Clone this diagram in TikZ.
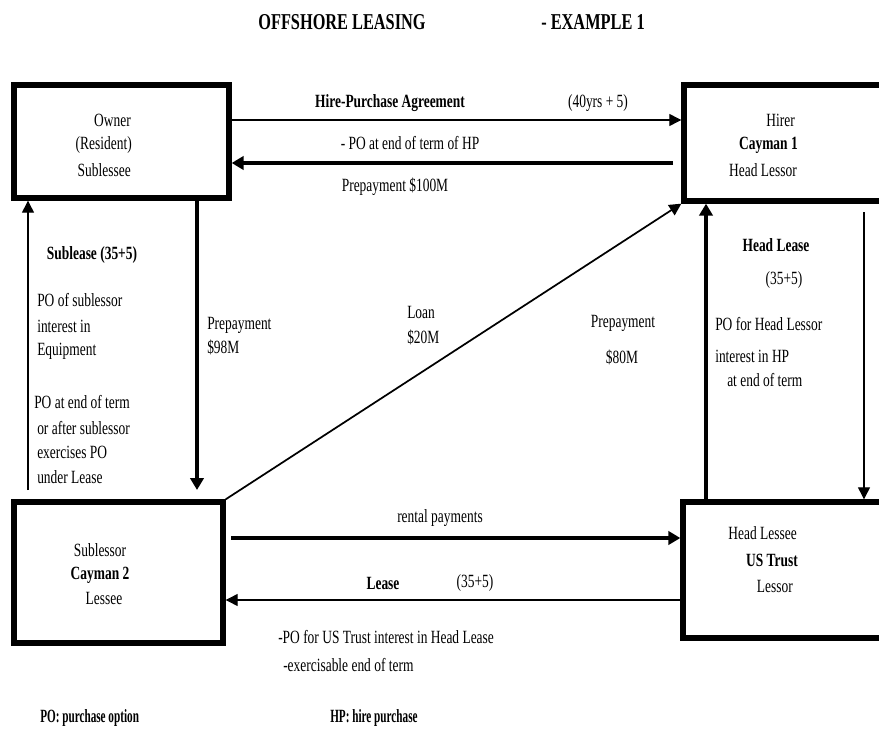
\documentclass[tikz,border=0pt]{standalone}
\usepackage{fontspec}
\newfontfamily\cf[FakeStretch=0.72]{Liberation Serif}
\newfontfamily\cfn[FakeStretch=0.6]{Liberation Serif}
\usetikzlibrary{arrows.meta,fit}
\begin{document}
\begin{tikzpicture}[x=0.75pt,y=-0.75pt,
  lbl/.style={font=\cf\fontsize{14}{16}\selectfont, inner sep=0pt},
  lbll/.style={lbl, anchor=west},
  boldlbl/.style={lbl, font=\cf\bfseries\fontsize{14}{16}\selectfont},
  titlelbl/.style={lbl, font=\cf\bfseries\fontsize{17}{19}\selectfont},
  legendlbl/.style={lbl, anchor=west, font=\cfn\bfseries\fontsize{14}{16}\selectfont},
  box/.style={draw, line width=4pt, inner sep=0pt},
  thinarrow/.style={line width=0.8pt, -{Triangle[length=9pt,width=9pt]}},
  thickarrow/.style={line width=3pt, -{Triangle[length=9pt,width=10pt]}},
  diagarrow/.style={line width=1.3pt, -{Triangle[length=9pt,width=9pt]}},
]
\clip (0,0) rectangle (879,735);
\fill[white] (0,0) rectangle (879,735);

% title
\node[titlelbl] (t1) at (342,22) {OFFSHORE LEASING};
\node[titlelbl] (t2) at (593,22) {- EXAMPLE 1};

% boxes
\coordinate (oA) at (14,85);  \coordinate (oB) at (229,198);
\coordinate (hA) at (684,85); \coordinate (hB) at (905,201);
\coordinate (sA) at (14,502); \coordinate (sB) at (223,643);
\coordinate (lA) at (683,502);\coordinate (lB) at (905,638);
\node[box, fit=(oA)(oB)] (owner) {};
\node[box, fit=(hA)(hB)] (hirer) {};
\node[box, fit=(sA)(sB)] (subl) {};
\node[box, fit=(lA)(lB)] (headl) {};

% box texts
\node[lbl, anchor=east] (ow1) at (131,120) {Owner};
\node[lbl, anchor=east] (ow2) at (132,145) {(Resident)};
\node[lbl, anchor=east] (ow3) at (131,170) {Sublessee};

\node[lbl, anchor=east] (hi1) at (795,120) {Hirer};
\node[boldlbl, anchor=east] (hi2) at (798,145) {Cayman 1};
\node[lbl, anchor=east] (hi3) at (797,170) {Head Lessor};

\node[lbl] (sl1) at (100,550) {Sublessor};
\node[boldlbl] (sl2) at (100,575) {Cayman 2};
\node[lbl] (sl3) at (104,598) {Lessee};

\node[lbl, anchor=east] (he1) at (797,533) {Head Lessee};
\node[boldlbl, anchor=east] (he2) at (798,560) {US Trust};
\node[lbl, anchor=east] (he3) at (793,586) {Lessor};

% connector helper coordinates
\coordinate (y120) at (0,120);
\coordinate (s163) at (673,163);
\coordinate (l490) at (28,490);
\coordinate (d490) at (197,490);
\coordinate (x706) at (706,0);
\coordinate (r212) at (864,212);
\coordinate (b538) at (231,538);
\coordinate (y600) at (0,600);

% connectors
\draw[thinarrow] (owner.east |- y120) -- (hirer.west |- y120);
\draw[thickarrow] (s163) -- (owner.east |- s163);
\draw[thinarrow] (l490) -- (owner.south -| l490);
\draw[thickarrow] (owner.south -| d490) -- (d490);
\draw[diagarrow] (subl.north east) -- (hirer.south west);
\draw[thickarrow] (headl.north -| x706) -- (hirer.south -| x706);
\draw[thinarrow] (r212) -- (headl.north -| r212);
\draw[thickarrow] (b538) -- (headl.west |- b538);
\draw[thinarrow] (headl.west |- y600) -- (subl.east |- y600);

% labels top
\node[boldlbl] (la1) at (390,103) {Hire-Purchase Agreement};
\node[lbl] (la2) at (598,103) {(40yrs + 5)};
\node[lbl] (la3) at (410,143) {- PO at end of term of HP};
\node[lbl] (la4) at (395,187) {Prepayment \$100M};

% left labels
\node[boldlbl] (lb1) at (92,255) {Sublease (35+5)};
\node[lbll] (lb2) at (37,300) {PO of sublessor};
\node[lbll] (lb3) at (37,326) {interest in};
\node[lbll] (lb4) at (37,351) {Equipment};
\node[lbll] (lb5) at (34,402) {PO at end of term};
\node[lbll] (lb6) at (37,428) {or after sublessor};
\node[lbll] (lb7) at (37,452) {exercises PO};
\node[lbll] (lb8) at (37,477) {under Lease};
\node[lbll] (lb9) at (207,325) {Prepayment};
\node[lbll] (lb10) at (207,347) {\$98M};

% middle labels
\node[lbll] (lm1) at (407,312) {Loan};
\node[lbll] (lm2) at (407,337) {\$20M};
\node[lbl] (lm3) at (623,323) {Prepayment};
\node[lbl] (lm4) at (622,357) {\$80M};

% right labels
\node[boldlbl] (lr1) at (776,245) {Head Lease};
\node[lbl] (lr2) at (784,280) {(35+5)};
\node[lbll] (lr3) at (715,324) {PO for Head Lessor};
\node[lbll] (lr4) at (715,356) {interest in HP};
\node[lbll] (lr5) at (727,380) {at end of term};

% bottom labels
\node[lbl] (lo1) at (440,518) {rental payments};
\node[boldlbl] (lo2) at (383,583) {Lease};
\node[lbl] (lo3) at (475,583) {(35+5)};
\node[lbll] (lo4) at (278,637) {-PO for US Trust interest in Head Lease};
\node[lbll] (lo5) at (283,665) {-exercisable end of term};

% legend
\node[legendlbl] (lg1) at (40,718) {PO: purchase option};
\node[legendlbl] (lg2) at (330,718) {HP: hire purchase};
\end{tikzpicture}
\end{document}
